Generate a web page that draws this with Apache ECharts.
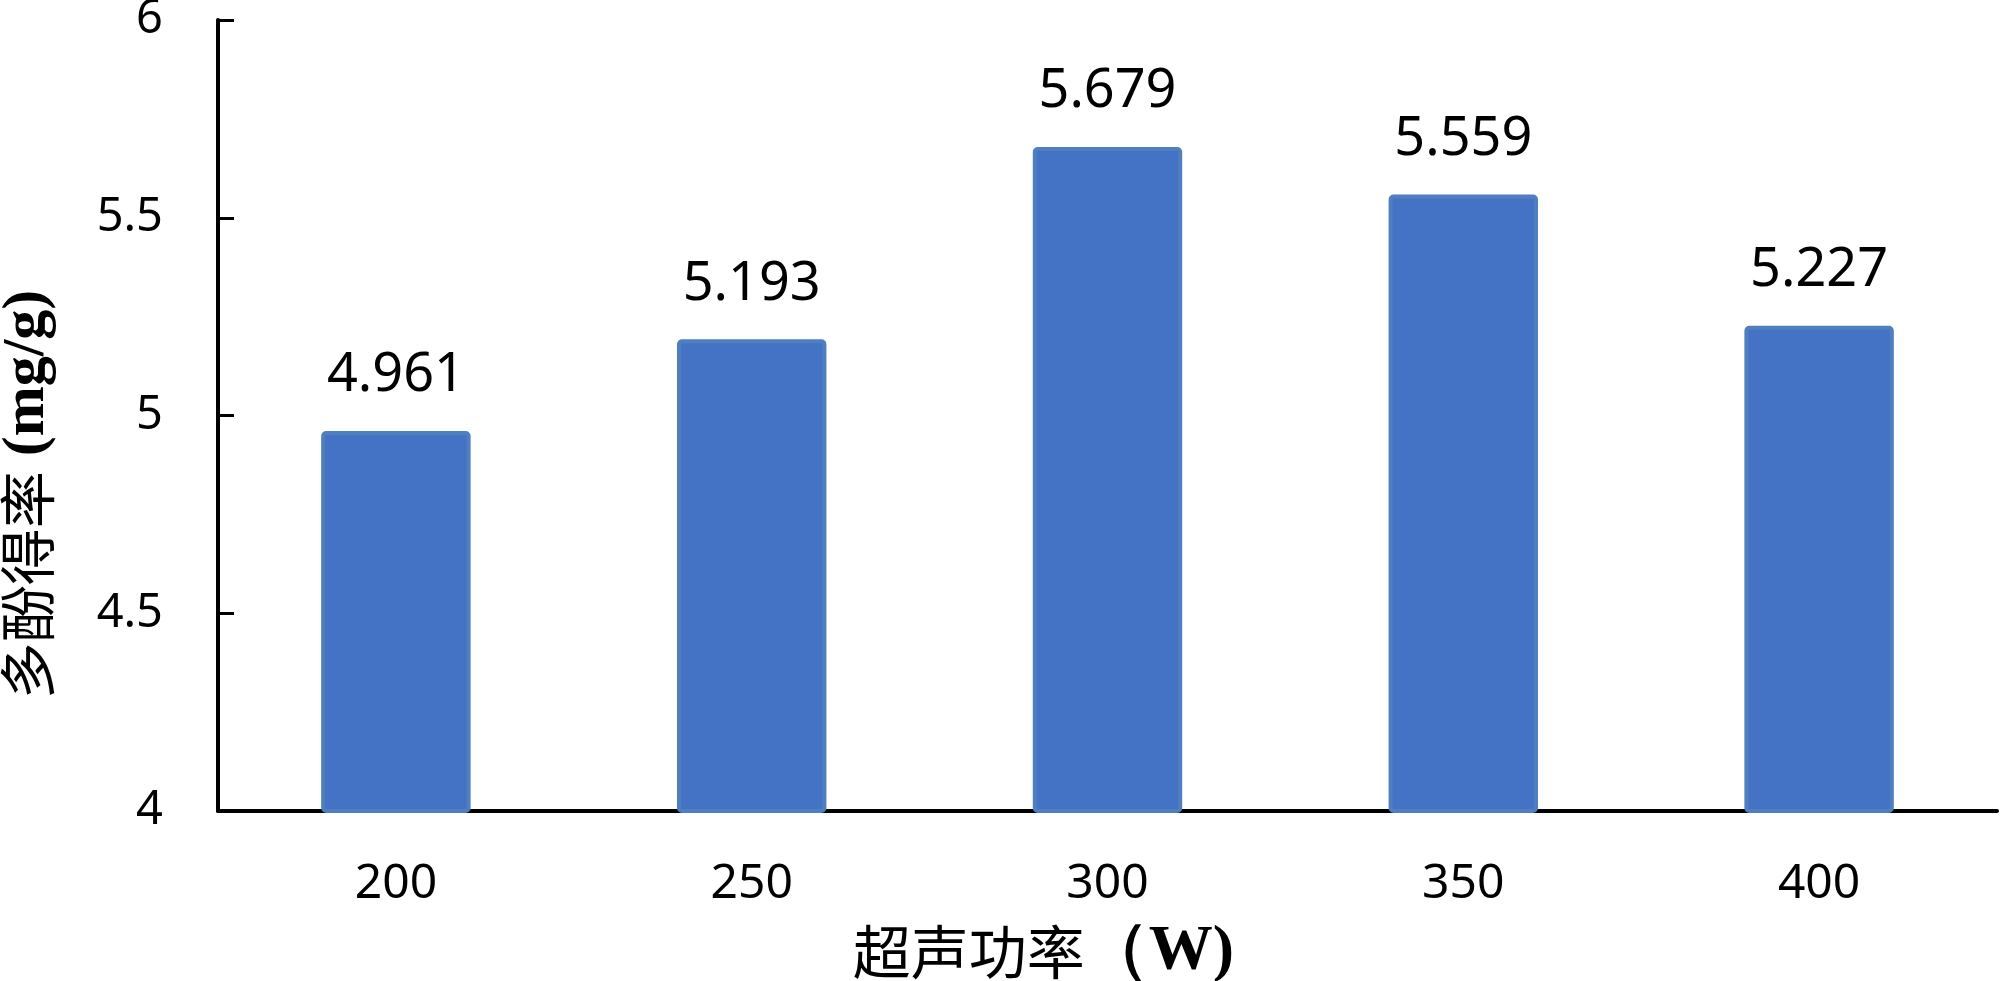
<!DOCTYPE html>
<html>
<head>
<meta charset="utf-8">
<script src="https://cdn.jsdelivr.net/npm/echarts@6/dist/echarts.min.js"></script>
<style>
    html, body { margin: 0; padding: 0; background: #fff; }
    #main { width: 2000px; height: 981px; }
</style>
</head>
<body>
<div id="main"></div>
<script>
// 超声功率 (W)
const powers = ['200', '250', '300', '350', '400'];
// 多酚得率 (mg/g)
const yields = [4.961, 5.193, 5.679, 5.559, 5.227];

const numFont = '"Noto Sans", "Open Sans", sans-serif';

let myChart = echarts.init(document.getElementById('main'));

let option = {
    animation: false,
    grid: {
        left: 218,
        right: 3,
        top: 20,
        bottom: 170,
        outerBoundsMode: 'none',
        containLabel: false
    },
    xAxis: {
        type: 'category',
        data: powers,
        name: '{a|超声功率}{b|（W)}',
        nameLocation: 'middle',
        nameGap: 109,
        nameTextStyle: {
            padding: [0, 128, 0, 0],
            rich: {
                a: { fontFamily: '"Noto Sans CJK SC"', fontSize: 58, color: '#000' },
                b: { fontFamily: '"Liberation Serif"', fontWeight: 'bold', fontSize: 64, color: '#000' }
            }
        },
        axisLine: { lineStyle: { color: '#000', width: 4 } },
        axisTick: { inside: true, length: 16, lineStyle: { color: '#000', width: 3 } },
        axisLabel: { color: '#000', fontFamily: numFont, fontSize: 48, margin: 49 }
    },
    yAxis: {
        type: 'value',
        min: 4,
        max: 6,
        interval: 0.5,
        name: '{a|多酚得率}{b| (mg/g)}',
        nameLocation: 'middle',
        nameGap: 161,
        nameRotate: 90,
        nameTextStyle: {
            padding: [0, 158, 0, 0],
            rich: {
                a: { fontFamily: '"Noto Sans CJK SC"', fontSize: 57, color: '#000' },
                b: { fontFamily: '"Liberation Serif"', fontWeight: 'bold', fontSize: 60, color: '#000' }
            }
        },
        splitLine: { show: false },
        axisLine: { show: true, lineStyle: { color: '#000', width: 4 } },
        axisTick: { show: true, inside: true, length: 16, lineStyle: { color: '#000', width: 3 } },
        axisLabel: { color: '#000', fontFamily: numFont, fontSize: 47, margin: 55 }
    },
    series: [
        {
            type: 'bar',
            data: yields,
            barWidth: '42%',
            itemStyle: {
                color: '#4472C4',
                borderColor: '#4F7FBE',
                borderWidth: 4,
                borderRadius: 3
            },
            label: {
                show: true,
                position: 'top',
                distance: 28,
                color: '#000',
                fontFamily: numFont,
                fontSize: 54,
                formatter: function (p) {
                    return p.value.toFixed(3);
                }
            }
        }
    ]
};

myChart.setOption(option);
</script>
</body>
</html>
